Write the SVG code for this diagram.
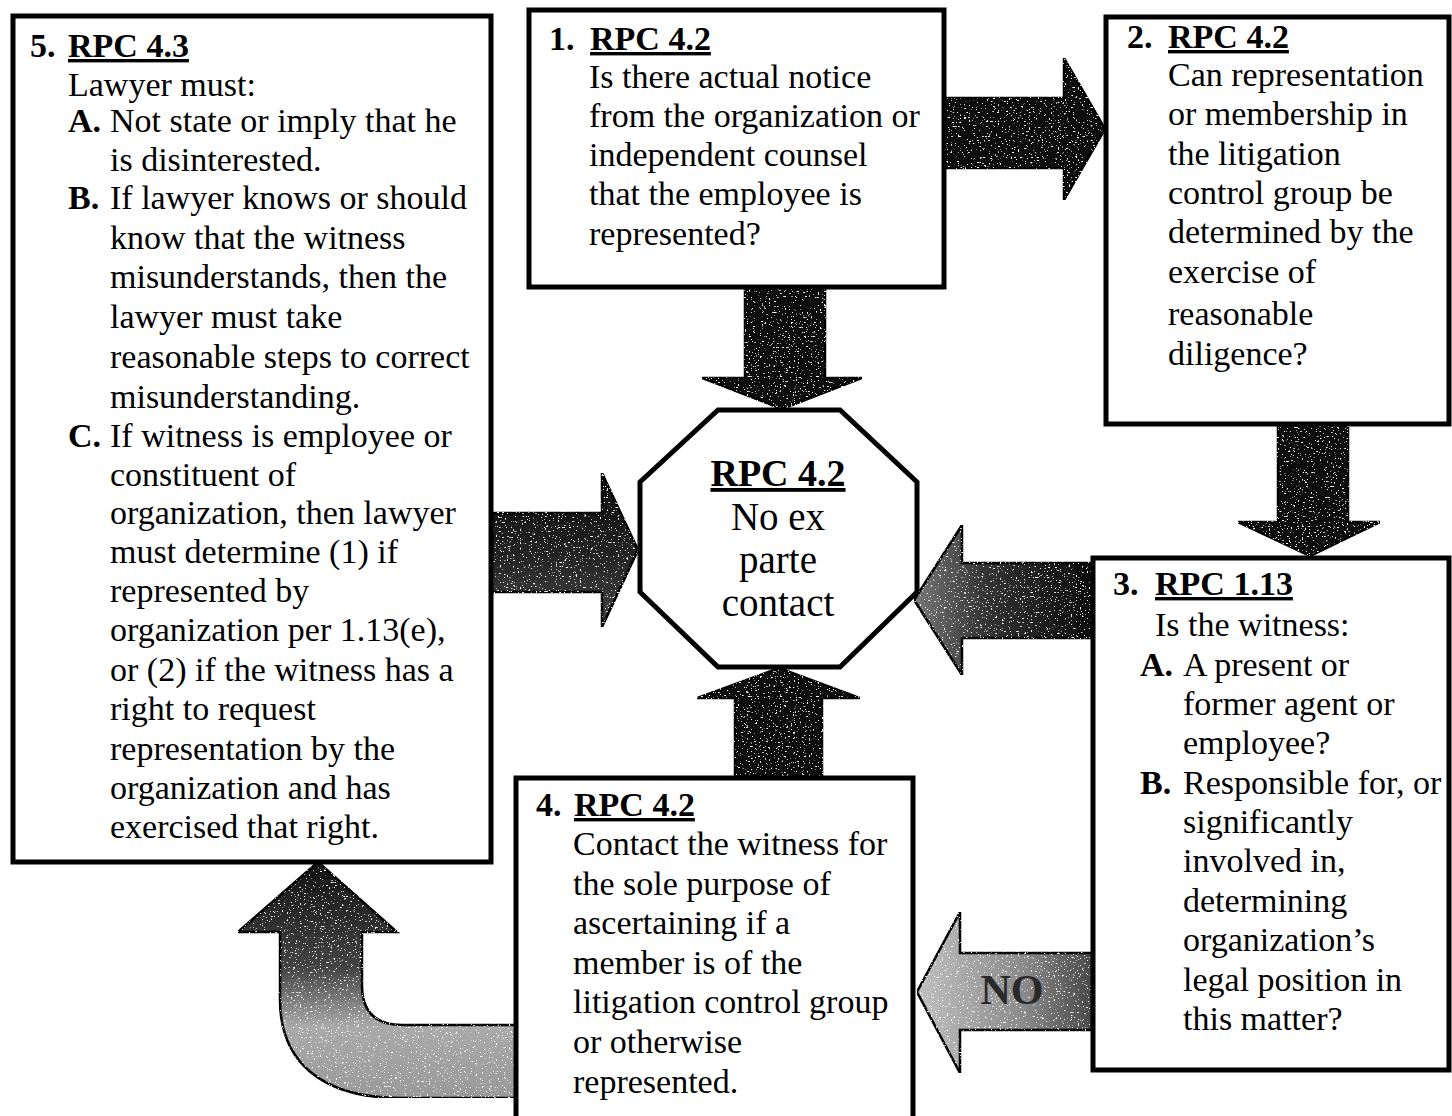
<svg xmlns="http://www.w3.org/2000/svg" width="1452" height="1116" viewBox="0 0 1452 1116">
<style>
text{font-family:"Liberation Serif","Times New Roman",serif;font-size:34px;fill:#000}
.b{font-weight:bold}
.u{font-weight:bold;text-decoration:underline}
.box{fill:#fff;stroke:#000;stroke-width:5}
.arr{stroke:#000;stroke-width:2.5;stroke-linejoin:miter}
.oct text{font-size:39px}
</style>
<defs>
<filter id="speckle" x="0" y="0" width="1" height="1">
<feTurbulence type="fractalNoise" baseFrequency="0.45 0.8" numOctaves="2" seed="4" result="n"/>
<feColorMatrix in="n" type="matrix" values="0 0 0 0 1  0 0 0 0 1  0 0 0 0 1  12 0 0 0 -7.9" result="dots"/>
<feComposite in="dots" in2="SourceAlpha" operator="in" result="d2"/>
<feMerge><feMergeNode in="SourceGraphic"/><feMergeNode in="d2"/></feMerge>
</filter>
<linearGradient id="gLeft" x1="0" y1="0" x2="1" y2="0">
<stop offset="0" stop-color="#777"/><stop offset="0.4" stop-color="#333"/><stop offset="1" stop-color="#0a0a0a"/>
</linearGradient>
<linearGradient id="gRight" x1="0" y1="0" x2="0" y2="1">
<stop offset="0" stop-color="#0a0a0a"/><stop offset="0.5" stop-color="#222"/><stop offset="1" stop-color="#444"/>
</linearGradient>
<linearGradient id="gNo" x1="0" y1="0" x2="1" y2="0">
<stop offset="0" stop-color="#c0c0c0"/><stop offset="0.6" stop-color="#8a8a8a"/><stop offset="1" stop-color="#444"/>
</linearGradient>
<linearGradient id="gCurve" x1="0" y1="0" x2="0" y2="1">
<stop offset="0" stop-color="#111"/><stop offset="0.45" stop-color="#444"/><stop offset="0.7" stop-color="#aaa"/><stop offset="1" stop-color="#999"/>
</linearGradient>
</defs>
<rect width="1452" height="1116" fill="#fff"/>

<g id="connectors">
<path class="arr" fill="#0a0a0a" filter="url(#speckle)" d="M940 98 L1064 98 L1064 58 L1105 129 L1064 200 L1064 168 L940 168 Z"/>
<path class="arr" fill="#0a0a0a" filter="url(#speckle)" d="M745 284 L825 284 L825 378 L862 378 L782 409 L702 378 L745 378 Z"/>
<path class="arr" fill="#111" filter="url(#speckle)" d="M1278 420 L1348 420 L1348 522 L1380 522 L1310 556 L1238 522 L1278 522 Z"/>
<path class="arr" fill="url(#gLeft)" filter="url(#speckle)" d="M1096 563 L962 563 L962 525 L914 600 L962 675 L962 638 L1096 638 Z"/>
<path class="arr" fill="url(#gRight)" filter="url(#speckle)" d="M488 513 L602 513 L602 473 L638 550 L602 627 L602 592 L488 592 Z"/>
<path class="arr" fill="#0a0a0a" filter="url(#speckle)" d="M735 782 L735 698 L697 698 L779 668 L860 698 L822 698 L822 782 Z"/>
<path class="arr" fill="url(#gNo)" filter="url(#speckle)" d="M1096 953 L960 953 L960 912 L917 992 L960 1073 L960 1030 L1096 1030 Z"/>
<text x="1012" y="1004" text-anchor="middle" class="b" style="font-size:42px;fill:#2a2a2a">NO</text>
<path class="arr" fill="url(#gCurve)" filter="url(#speckle)" d="M519 1025 L402 1025 Q362 1025 362 985 L362 932 L397 932 L318 862 L238 932 L280 932 L280 1000 C280 1062 322 1098 400 1098 L519 1098 Z"/>
</g>

<g id="node-5">
<rect class="box" x="13" y="16" width="478" height="846"/>
<text x="30" y="57"><tspan class="b">5.</tspan><tspan x="68" class="u">RPC 4.3</tspan></text>
<text x="68" y="96">Lawyer must:</text>
<text x="68" y="132"><tspan class="b">A.</tspan><tspan x="110">Not state or imply that he</tspan></text>
<text x="110" y="171">is disinterested.</text>
<text x="68" y="209"><tspan class="b">B.</tspan><tspan x="110">If lawyer knows or should</tspan></text>
<text x="110" y="249">know that the witness</text>
<text x="110" y="288">misunderstands, then the</text>
<text x="110" y="328">lawyer must take</text>
<text x="110" y="368">reasonable steps to correct</text>
<text x="110" y="408">misunderstanding.</text>
<text x="68" y="447"><tspan class="b">C.</tspan><tspan x="110">If witness is employee or</tspan></text>
<text x="110" y="486">constituent of</text>
<text x="110" y="524">organization, then lawyer</text>
<text x="110" y="563">must determine (1) if</text>
<text x="110" y="602">represented by</text>
<text x="110" y="641">organization per 1.13(e),</text>
<text x="110" y="681">or (2) if the witness has a</text>
<text x="110" y="720">right to request</text>
<text x="110" y="760">representation by the</text>
<text x="110" y="799">organization and has</text>
<text x="110" y="838">exercised that right.</text>
</g>

<g id="node-1">
<rect class="box" x="529" y="10" width="415" height="277"/>
<text x="549" y="50"><tspan class="b">1.</tspan><tspan x="590" class="u">RPC 4.2</tspan></text>
<text x="589" y="88">Is there actual notice</text>
<text x="589" y="127">from the organization or</text>
<text x="589" y="166">independent counsel</text>
<text x="589" y="205">that the employee is</text>
<text x="589" y="245">represented?</text>
</g>

<g id="node-2">
<rect class="box" x="1106" y="17" width="343" height="407"/>
<text x="1127" y="48"><tspan class="b">2.</tspan><tspan x="1168" class="u">RPC 4.2</tspan></text>
<text x="1168" y="86">Can representation</text>
<text x="1168" y="125">or membership in</text>
<text x="1168" y="165">the litigation</text>
<text x="1168" y="204">control group be</text>
<text x="1168" y="243">determined by the</text>
<text x="1168" y="283">exercise of</text>
<text x="1168" y="325">reasonable</text>
<text x="1168" y="365">diligence?</text>
</g>

<g id="node-3">
<rect class="box" x="1093" y="558" width="356" height="512"/>
<text x="1113" y="595"><tspan class="b">3.</tspan><tspan x="1155" class="u">RPC 1.13</tspan></text>
<text x="1155" y="636">Is the witness:</text>
<text x="1140" y="676"><tspan class="b">A.</tspan><tspan x="1183">A present or</tspan></text>
<text x="1183" y="715">former agent or</text>
<text x="1183" y="754">employee?</text>
<text x="1140" y="794"><tspan class="b">B.</tspan><tspan x="1183">Responsible for, or</tspan></text>
<text x="1183" y="833">significantly</text>
<text x="1183" y="872">involved in,</text>
<text x="1183" y="912">determining</text>
<text x="1183" y="951">organization’s</text>
<text x="1183" y="991">legal position in</text>
<text x="1183" y="1030">this matter?</text>
</g>

<g id="node-4">
<rect class="box" x="516" y="778" width="397" height="350"/>
<text x="536" y="816"><tspan class="b">4.</tspan><tspan x="574" class="u">RPC 4.2</tspan></text>
<text x="573" y="855">Contact the witness for</text>
<text x="573" y="895">the sole purpose of</text>
<text x="573" y="934">ascertaining if a</text>
<text x="573" y="974">member is of the</text>
<text x="573" y="1013">litigation control group</text>
<text x="573" y="1053">or otherwise</text>
<text x="573" y="1093">represented.</text>
</g>

<g id="node-center" class="oct">
<polygon points="718,410 840,410 917,482 917,592 840,667 718,667 640,592 640,482" fill="#fff" stroke="#000" stroke-width="5"/>
<text x="778" y="486" text-anchor="middle" class="u" style="font-size:38px">RPC 4.2</text>
<text x="778" y="530" text-anchor="middle">No ex</text>
<text x="778" y="573" text-anchor="middle">parte</text>
<text x="778" y="616" text-anchor="middle">contact</text>
</g>
</svg>
